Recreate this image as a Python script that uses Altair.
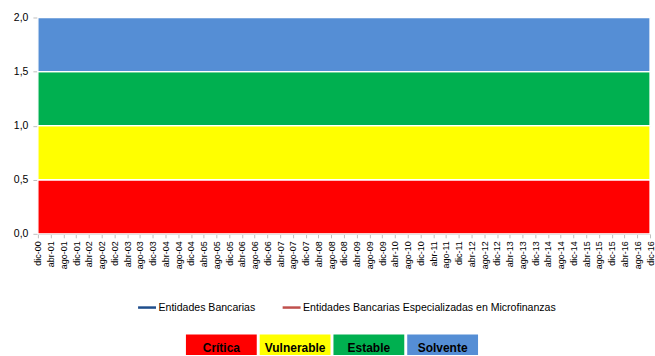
import altair as alt
import pandas as pd

# Periodos del eje horizontal (cada cuatro meses)
fechas = [
    "dic-00",
    "abr-01", "ago-01", "dic-01",
    "abr-02", "ago-02", "dic-02",
    "abr-03", "ago-03", "dic-03",
    "abr-04", "ago-04", "dic-04",
    "abr-05", "ago-05", "dic-05",
    "abr-06", "ago-06", "dic-06",
    "abr-07", "ago-07", "dic-07",
    "abr-08", "ago-08", "dic-08",
    "abr-09", "ago-09", "dic-09",
    "abr-10", "ago-10", "dic-10",
    "abr-11", "ago-11", "dic-11",
    "abr-12", "ago-12", "dic-12",
    "abr-13", "ago-13", "dic-13",
    "abr-14", "ago-14", "dic-14",
    "abr-15", "ago-15", "dic-15",
    "abr-16", "ago-16", "dic-16",
]

# Zonas del indicador y sus límites
zonas = ["Crítica", "Vulnerable", "Estable", "Solvente"]
limite_inferior = [0.0, 0.5, 1.0, 1.5]
limite_superior = [0.5, 1.0, 1.5, 2.0]
colores_zonas = ["#FF0000", "#FFFF00", "#00B050", "#558ED5"]

# Series del indicador (sin observaciones en el periodo)
series = ["Entidades Bancarias", "Entidades Bancarias Especializadas en Microfinanzas"]
colores_series = ["#1F4E8C", "#C0504D"]
valores_bancarias = [None] * len(fechas)
valores_microfinanzas = [None] * len(fechas)

FUENTE = "Liberation Sans"

bandas = pd.DataFrame(
    [
        {"fecha": f, "zona": z, "inferior": lo, "superior": hi}
        for z, lo, hi in zip(zonas, limite_inferior, limite_superior)
        for f in fechas
    ]
)

lineas = pd.DataFrame(
    {
        "fecha": fechas * 2,
        "serie": [series[0]] * len(fechas) + [series[1]] * len(fechas),
        "valor": valores_bancarias + valores_microfinanzas,
    }
)

zonas_df = pd.DataFrame({"zona": zonas})

x_enc = alt.X(
    "fecha:O",
    sort=fechas,
    scale=alt.Scale(type="point", domain=fechas, padding=0),
    axis=alt.Axis(
        title=None,
        labelAngle=-90,
        labelFontSize=9,
        labelColor="#000000",
        labelPadding=3,
        tickColor="#BFBFBF",
        tickSize=4,
        domainColor="#BFBFBF",
        labelOverlap=False,
    ),
)

escala_y = alt.Scale(domain=[0, 2], nice=False, zero=True)
eje_y = alt.Axis(
    title=None,
    values=[0, 0.5, 1.0, 1.5, 2.0],
    labelExpr="replace(format(datum.value, '.1f'), '.', ',')",
    labelFontSize=10.5,
    labelColor="#000000",
    labelPadding=5,
    tickSize=5,
    tickColor="#BFBFBF",
    domain=False,
    grid=True,
    gridColor="#D9D9D9",
)

escala_zonas = alt.Scale(domain=zonas, range=colores_zonas)

areas = (
    alt.Chart(bandas)
    .mark_area(stroke="white", strokeWidth=1.3, interpolate="linear")
    .encode(
        x=x_enc,
        y=alt.Y("inferior:Q", scale=escala_y, axis=eje_y),
        y2="superior:Q",
        fill=alt.Fill("zona:N", scale=escala_zonas, legend=None),
        detail="zona:N",
    )
)

trazos = (
    alt.Chart(lineas)
    .mark_line(strokeWidth=2.5)
    .encode(
        x=x_enc,
        y=alt.Y("valor:Q", scale=escala_y),
        stroke=alt.Stroke(
            "serie:N",
            scale=alt.Scale(domain=series, range=colores_series),
            legend=alt.Legend(
                title=None,
                orient="none",
                direction="horizontal",
                legendX=99,
                legendY=280,
                symbolType="stroke",
                symbolSize=324,
                symbolStrokeWidth=2.5,
                labelFontSize=10.6,
                labelFont=FUENTE,
                labelColor="#000000",
                labelOffset=1,
                columnPadding=21,
                labelLimit=400,
            ),
        ),
    )
)

principal = alt.layer(areas, trazos).properties(width=614, height=217)

# Recuadros de zonas, bajo el centro de la leyenda de series
cajas = alt.Chart(zonas_df).encode(
    x=alt.X(
        "zona:N",
        sort=zonas,
        scale=alt.Scale(range=[148.5, 441.5], paddingInner=0.04, paddingOuter=0),
        axis=None,
    )
)

leyenda_zonas = alt.layer(
    cajas.mark_rect().encode(
        fill=alt.Fill("zona:N", scale=escala_zonas, legend=None)
    ),
    cajas.mark_text(
        font=FUENTE,
        fontSize=12,
        fontWeight="bold",
        color="#000000",
        baseline="alphabetic",
        dy=7.5,
    ).encode(text="zona:N"),
).properties(width=614, height=20.5)

chart = (
    alt.vconcat(principal, leyenda_zonas, spacing=101, bounds="flush")
    .resolve_scale(stroke="independent")
    .properties(padding={"left": 13, "top": 12, "right": 0, "bottom": 0})
    .configure(font=FUENTE)
    .configure_view(stroke=None)
)

chart.save("out.html", embed_options={"renderer": "svg", "actions": False})
